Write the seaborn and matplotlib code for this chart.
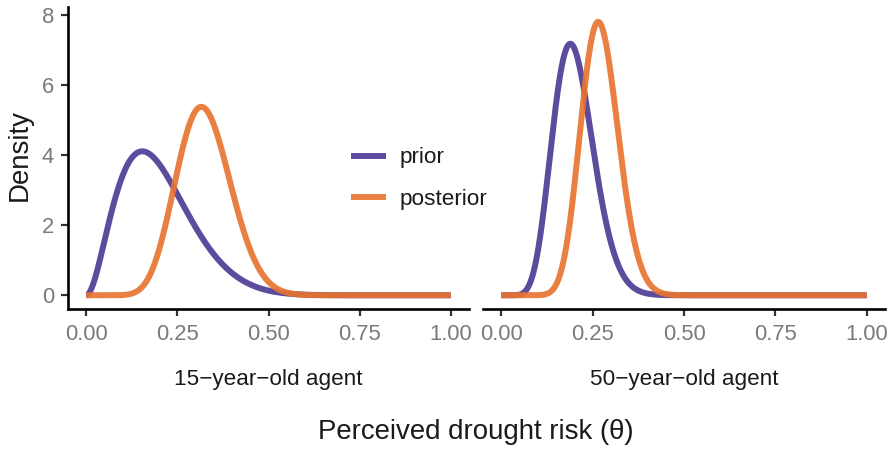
import math
import numpy as np
import pandas as pd
import matplotlib
matplotlib.use("Agg")
import matplotlib.pyplot as plt
import seaborn as sns

# ---- data (beta-distribution parameters) ----
agents = ["15\u2212year\u2212old agent", "50\u2212year\u2212old agent"]
beliefs = ["prior", "posterior"]
prior_alpha = [3.0, 10.2]
prior_beta = [12.0, 40.5]
post_alpha = [13.0, 20.5]
post_beta = [27.0, 55.0]
x_ticks = [0.00, 0.25, 0.50, 0.75, 1.00]
x_ticklabels = ["0.00", "0.25", "0.50", "0.75", "1.00"]
y_ticks = [0, 2, 4, 6, 8]

colors = {"prior": "#5d4c9e", "posterior": "#e8742f"}


def beta_pdf(x, a, b):
    lb = math.lgamma(a) + math.lgamma(b) - math.lgamma(a + b)
    out = np.exp((a - 1) * np.log(np.clip(x, 1e-12, 1)) + (b - 1) * np.log(np.clip(1 - x, 1e-12, 1)) - lb)
    return out


theta = np.linspace(0, 1, 801)
rows = []
for i, ag in enumerate(agents):
    for bel, (a, b) in zip(beliefs, [(prior_alpha[i], prior_beta[i]), (post_alpha[i], post_beta[i])]):
        d = beta_pdf(theta, a, b)
        rows.append(pd.DataFrame({"theta": theta, "density": d, "belief": bel, "agent": ag}))
df = pd.concat(rows, ignore_index=True)

sns.set_theme(style="white")
plt.rcParams["font.family"] = ["Liberation Sans", "DejaVu Sans"]

W, H = 893, 449
fig = plt.figure(figsize=(W / 100, H / 100), dpi=100)
fig.patch.set_facecolor("white")


def px_axes(x0, y0, x1, y1):
    return fig.add_axes([x0 / W, 1 - y1 / H, (x1 - x0) / W, (y1 - y0) / H])


ax1 = px_axes(68, 7, 469, 309)
ax2 = px_axes(483, 7, 885, 309)

tick_gray = "#7a7a7a"
for i, (ax, ag) in enumerate(zip([ax1, ax2], agents)):
    sub = df[df["agent"] == ag]
    for bel in beliefs:
        s = sub[sub["belief"] == bel]
        sns.lineplot(data=s, x="theta", y="density", ax=ax, color=colors[bel],
                     linewidth=4.3, alpha=1.0 if bel == "prior" else 0.92,
                     label=bel if i == 0 else None, solid_capstyle="butt")
    ax.set_xlim(-0.05, 1.05)
    ax.set_ylim(-0.393, 8.24)
    ax.set_xticks(x_ticks)
    ax.set_xticklabels(x_ticklabels)
    ax.set_xlabel("")
    ax.set_ylabel("")
    for sp in ["top", "right"]:
        ax.spines[sp].set_visible(False)
    ax.spines["bottom"].set_color("black")
    ax.spines["bottom"].set_linewidth(1.9)
    ax.tick_params(axis="x", length=5, width=1.6, color="#333333", labelsize=15.8,
                   labelcolor=tick_gray, pad=6, bottom=True)
    if i == 0:
        ax.spines["left"].set_color("black")
        ax.spines["left"].set_linewidth(1.9)
        ax.set_yticks(y_ticks)
        ax.tick_params(axis="y", length=5, width=1.6, color="#333333", labelsize=15.8,
                       labelcolor=tick_gray, pad=5, left=True)
    else:
        ax.spines["left"].set_visible(False)
        ax.set_yticks([])
    ax.grid(False)
    ax.set_facecolor("none")
    fig.text(((68 + 469) / 2 if i == 0 else (483 + 885) / 2) / W, 1 - 380 / H, ag,
             ha="center", va="center", fontsize=16.2, color="#1a1a1a")

leg = ax1.legend(loc="center left", bbox_to_anchor=(0.706, 0.432), frameon=False,
                 fontsize=16.2, handlelength=1.55, handletextpad=0.6, labelspacing=0.9,
                 borderpad=0, borderaxespad=0)
leg.set_zorder(10)
for t in leg.get_texts():
    t.set_color("#1a1a1a")
ax1.set_zorder(3)

fig.text(476 / W, 1 - 432 / H, "Perceived drought risk (\u03b8)", ha="center", va="center",
         fontsize=19.9, color="#1a1a1a")
fig.text(20 / W, 1 - 155 / H, "Density", ha="center", va="center", rotation=90,
         fontsize=19.9, color="#1a1a1a")

fig.savefig("out.png", dpi=100, facecolor="white")
